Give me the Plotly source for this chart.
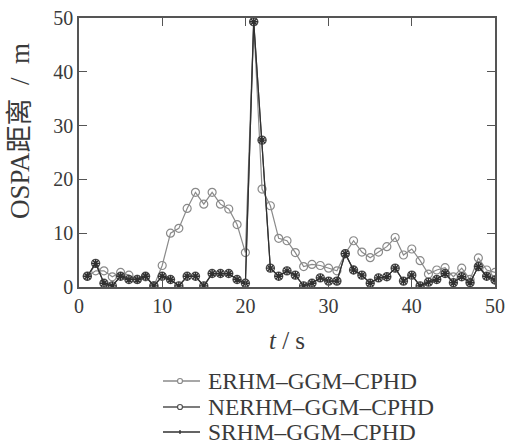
import plotly.graph_objects as go

t = list(range(1, 51))
erhm = [2.0, 3.0, 3.0, 1.9, 2.7, 2.2, 1.4, 1.9, 0.2, 4.0,
        10.0, 10.9, 14.6, 17.6, 15.4, 17.6, 15.4, 14.5, 11.6, 6.4,
        49.3, 18.2, 15.1, 9.05, 8.6, 6.4, 3.8, 4.2, 4.0, 3.5,
        3.0, 6.2, 8.6, 6.5, 5.45, 6.5, 7.5, 9.2, 5.95, 7.06,
        4.9, 2.4, 3.16, 3.6, 1.9, 3.5, 1.4, 5.4, 3.16, 2.7]
nerhm = [2.0, 4.4, 0.7, 0.2, 2.0, 1.4, 1.4, 2.0, 0.2, 2.0,
         1.4, 0.2, 2.0, 2.0, 0.2, 2.5, 2.5, 2.5, 1.4, 0.7,
         49.3, 27.3, 3.5, 2.0, 3.0, 2.2, 0.2, 0.7, 1.7, 1.1,
         1.1, 6.2, 3.16, 2.2, 0.7, 1.7, 1.9, 3.5, 1.1, 2.2,
         0.2, 0.9, 1.4, 2.5, 0.8, 1.9, 0.8, 3.8, 2.0, 1.3]
srhm = list(nerhm)

names = ["ERHM\u2013GGM\u2013CPHD", "NERHM\u2013GGM\u2013CPHD", "SRHM\u2013GGM\u2013CPHD"]
x_title = "<i>t</i> / s"
y_title = "OSPA距离\u2002/\u2002m"

font_family = "Liberation Serif, Noto Sans CJK SC, serif"
txt = "#3a3a3a"
colors = ["#8a8a8a", "#505050", "#303030"]

W, H = 506, 444
ML, MR, MT, MB = 79, 11, 18, 157
PW, PH = W - ML - MR, H - MT - MB


def px_to_paper(px, py):
    return (px - ML) / PW, (H - MB - py) / PH


fig = go.Figure()
fig.add_trace(go.Scatter(
    x=t, y=erhm, name=names[0], mode="lines+markers",
    line=dict(color=colors[0], width=1.2),
    marker=dict(symbol="circle-open", size=8, color=colors[0], line=dict(width=1.2)),
))
fig.add_trace(go.Scatter(
    x=t, y=nerhm, name=names[1], mode="lines+markers",
    line=dict(color=colors[1], width=1.2),
    marker=dict(symbol="circle-open", size=8, color=colors[1], line=dict(width=1.4)),
))
fig.add_trace(go.Scatter(
    x=t, y=srhm, name=names[2], mode="lines+markers",
    line=dict(color=colors[2], width=1.2),
    marker=dict(symbol="asterisk-open", size=7, color=colors[2], line=dict(width=1.4)),
))

axis_common = dict(
    showgrid=False, zeroline=False, showline=True, linecolor="#555555", linewidth=1.5,
    mirror="ticks", ticks="inside", ticklen=8, tickwidth=1.2, tickcolor="#555555",
    tickfont=dict(family=font_family, size=20, color=txt),
)

# Manual legend (compact row spacing as in the reference)
shapes = []
annotations = []
row_y = [381, 407, 432]
for i, (name, ry) in enumerate(zip(names, row_y)):
    x0, y0 = px_to_paper(163, ry)
    x1, _ = px_to_paper(200, ry)
    shapes.append(dict(type="line", xref="paper", yref="paper", x0=x0, x1=x1, y0=y0, y1=y0,
                       line=dict(color=colors[i], width=1.3)))
    if i < 2:
        cx0, cy0 = px_to_paper(177.5, ry - 2.5)
        cx1, cy1 = px_to_paper(182.5, ry + 2.5)
        shapes.append(dict(type="circle", xref="paper", yref="paper", x0=cx0, x1=cx1, y0=cy0, y1=cy1,
                           line=dict(color=colors[i], width=1.2), fillcolor="white"))
    else:
        vx, vy0 = px_to_paper(180, ry - 2)
        _, vy1 = px_to_paper(180, ry + 2)
        shapes.append(dict(type="line", xref="paper", yref="paper", x0=vx, x1=vx, y0=vy0, y1=vy1,
                           line=dict(color=colors[i], width=1.3)))
    tx, ty = px_to_paper(206, ry)
    annotations.append(dict(text=name, xref="paper", yref="paper", x=tx, y=ty,
                            xanchor="left", yanchor="middle", showarrow=False,
                            font=dict(family=font_family, size=23.5, color=txt)))

yx, yy = px_to_paper(20, 131)
annotations.append(dict(
    text=y_title, textangle=-90, xref="paper", yref="paper",
    x=yx, y=yy, xanchor="center", yanchor="middle", showarrow=False,
    font=dict(family=font_family, size=27, color=txt),
))

fig.update_layout(
    width=W, height=H,
    margin=dict(l=ML, r=MR, t=MT, b=MB, autoexpand=False),
    paper_bgcolor="white", plot_bgcolor="white",
    showlegend=False,
    xaxis=dict(range=[0, 50], dtick=10, tick0=0,
               title=dict(text=x_title, font=dict(family=font_family, size=25, color=txt), standoff=16),
               **axis_common),
    yaxis=dict(range=[0, 50], dtick=10, tick0=0, **axis_common),
    shapes=shapes,
    annotations=annotations,
)

fig.write_html("out.html", config={"displayModeBar": False},
               post_script="document.body.style.margin='0';")
